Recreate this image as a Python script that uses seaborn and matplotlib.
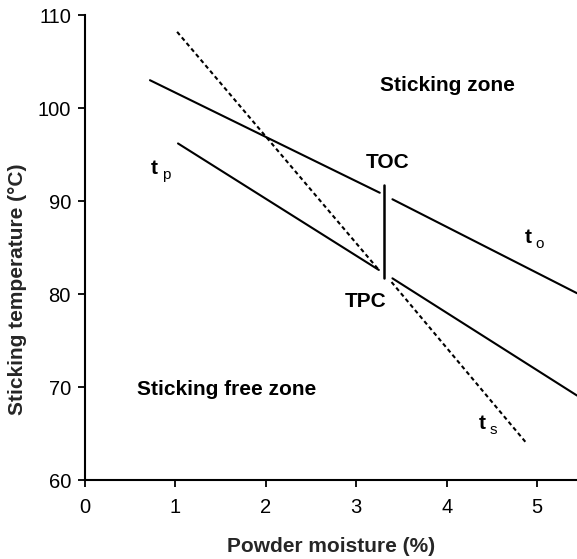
import matplotlib
matplotlib.use("Agg")
import matplotlib.pyplot as plt
import seaborn as sns
import pandas as pd

# ---- data ----
to_left_x = [0.72, 3.26]
to_left_y = [103.0, 90.9]
to_right_x = [3.40, 5.44]
to_right_y = [90.2, 80.1]

tp_left_x = [1.03, 3.25]
tp_left_y = [96.2, 82.6]
tp_right_x = [3.40, 5.44]
tp_right_y = [81.7, 69.1]

ts_left_x = [1.02, 3.25]
ts_left_y = [108.2, 82.6]
ts_right_x = [3.39, 4.88]
ts_right_y = [81.3, 64.0]

crit_x = [3.31, 3.31]
crit_y = [91.7, 81.7]

x_ticks = [0, 1, 2, 3, 4, 5]
y_ticks = [60, 70, 80, 90, 100, 110]

sns.set_style("ticks")
plt.rcParams['font.family'] = ['Liberation Sans', 'DejaVu Sans']

fig = plt.figure(figsize=(5.77, 5.59), dpi=100)
ax = fig.add_axes([0.147, 0.141, 0.853, 0.832])

solid = dict(color="black", linewidth=1.5)
dashed = dict(color="black", linewidth=1.5, linestyle=(0, (2, 1.5)))

segments = [
    (to_left_x, to_left_y, solid),
    (to_right_x, to_right_y, solid),
    (tp_left_x, tp_left_y, solid),
    (tp_right_x, tp_right_y, solid),
    (ts_left_x, ts_left_y, dashed),
    (ts_right_x, ts_right_y, dashed),
    (crit_x, crit_y, dict(color="black", linewidth=1.8)),
]
for xs, ys, kw in segments:
    df = pd.DataFrame({"x": xs, "y": ys})
    sns.lineplot(data=df, x="x", y="y", sort=False, estimator=None, ax=ax, **kw)

ax.set_xlim(0, 5.44)
ax.set_ylim(60, 110)
ax.set_xticks(x_ticks)
ax.set_yticks(y_ticks)
ax.tick_params(labelsize=14.5, length=5, width=1.3, color="black", labelcolor="black")
ax.tick_params(axis="x", pad=8)
ax.tick_params(axis="y", pad=5)
for s in ["left", "bottom"]:
    ax.spines[s].set_linewidth(1.5)
    ax.spines[s].set_color("black")
sns.despine(ax=ax)

ax.set_xlabel("Powder moisture (%)", fontsize=15, fontweight="bold")
ax.set_ylabel("Sticking temperature (°C)", fontsize=15, fontweight="bold")
ax.xaxis.set_label_coords(0.5, -0.122)
ax.yaxis.set_label_coords(-0.118, 0.41)

txt = dict(fontsize=15, fontweight="bold", color="black")
ax.text(4.01, 102.4, "Sticking zone", ha="center", va="center", **txt)
ax.text(1.57, 69.8, "Sticking free zone", ha="center", va="center", **txt)
ax.text(3.35, 94.2, "TOC", ha="center", va="center", **txt)
ax.text(3.10, 79.2, "TPC", ha="center", va="center", **txt)

for tx, ty, sx, sy, sub in [(0.77, 93.5, 0.85, 92.8, "p"),
                            (4.90, 86.1, 4.98, 85.4, "o"),
                            (4.39, 66.1, 4.47, 65.4, "s")]:
    ax.text(tx, ty, "t", ha="center", va="center", **txt)
    ax.text(sx, sy, sub, ha="left", va="center", fontsize=11, color="black")

fig.savefig("out.png", dpi=100)
